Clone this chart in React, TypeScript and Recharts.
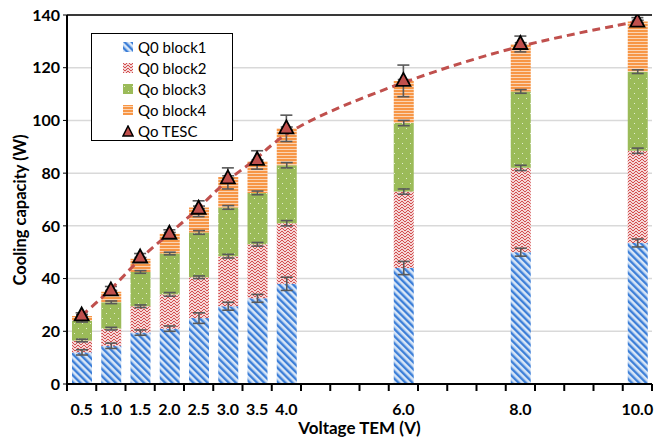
import { ComposedChart, Bar, Line, XAxis, YAxis, CartesianGrid, ErrorBar, Label, ReferenceLine } from "recharts";

// measured voltages and the cooling capacity of each TEM block (W)
const voltages = ["0.5", "1.0", "1.5", "2.0", "2.5", "3.0", "3.5", "4.0", "6.0", "8.0", "10.0"];
const block1 = [12, 14.5, 19.5, 21, 25, 29.5, 32.5, 38, 44, 50, 53.5];
const block2 = [4.5, 6.5, 10, 13, 15.5, 19, 20.5, 23, 29, 32, 35];
const block3 = [7.5, 10, 13, 15.5, 17, 18.5, 19.5, 22, 26, 29, 30];
const block4 = [1.8, 4, 5, 7.5, 9.5, 11.5, 12, 14, 16, 18, 19];
const tesc = [26, 35.5, 48, 57, 66.5, 78, 85, 97, 115, 129, 137.5];

// +/- uncertainty for each series
const err1 = [1, 1, 1, 1, 2, 1.5, 1.5, 2.5, 2.5, 1.5, 1.5];
const err2 = [0.5, 0.5, 0.5, 0.7, 0.5, 0.7, 0.7, 1, 1, 1, 1];
const err3 = [0.5, 0.5, 0.5, 0.5, 0.7, 0.7, 0.7, 1, 1, 0.7, 0.7];
const err4 = [0.5, 0.5, 0.5, 0.5, 0.5, 0.5, 0.5, 0.5, 0.5, 0.5, 0.5];
const errTesc = [1, 1.5, 1.5, 1.5, 3, 4, 3.5, 5, 6, 3, 1.5];

const yTicks = [0, 20, 40, 60, 80, 100, 120, 140];

// category slots every 0.5 V; only the measured ones carry data
const slots = Array.from({ length: 20 }, (_, i) => ((i + 1) * 0.5).toFixed(1));
const data = slots.map((v) => {
  const i = voltages.indexOf(v);
  if (i < 0) return { v };
  return {
    v,
    b1: block1[i], b2: block2[i], b3: block3[i], b4: block4[i], tesc: tesc[i],
    e1: err1[i], e2: err2[i], e3: err3[i], e4: err4[i], et: errTesc[i],
  };
});

const W = 668;
const H = 438;
const M = { top: 15, right: 16, bottom: 0, left: 0 };
const Y_W = 67;
const X_H = 54;
const BAND = (W - M.right - Y_W) / slots.length;
const FONT = "Lato, 'Open Sans', sans-serif";
const RED = "#C0504D";

function VoltTick(props: any) {
  const { x, y, payload, index } = props;
  const label = voltages.includes(payload.value) ? payload.value : "";
  const top = y - 8;
  return (
    <g>
      <line x1={x - BAND / 2} x2={x - BAND / 2} y1={top} y2={top + 7} stroke="#000" strokeWidth={2} />
      {index === slots.length - 1 && (
        <line x1={x + BAND / 2} x2={x + BAND / 2} y1={top} y2={top + 7} stroke="#000" strokeWidth={2} />
      )}
      <text x={x} y={y + 23} textAnchor="middle" fontFamily={FONT} fontWeight={700} fontSize={16} fill="#000">
        {label}
      </text>
    </g>
  );
}

function Triangle(props: any) {
  const { cx, cy } = props;
  if (cx == null || cy == null) return null;
  return (
    <polygon
      points={`${cx},${cy - 8} ${cx - 7},${cy + 5} ${cx + 7},${cy + 5}`}
      fill={RED}
      stroke="#000"
      strokeWidth={1.8}
    />
  );
}

function Patterns() {
  return (
    <defs>
      <pattern id="pBlue" width="5" height="5" patternUnits="userSpaceOnUse" patternTransform="rotate(-45)">
        <rect width="5" height="5" fill="#d8e6f7" />
        <rect width="2.4" height="5" fill="#3d7fd8" />
      </pattern>
      <pattern id="pRed" width="6" height="6" patternUnits="userSpaceOnUse">
        <rect width="6" height="6" fill="#f5d6d6" />
        <path d="M0 0 L3 3 L6 0 M0 3 L3 6 L6 3" stroke="#d24f4f" strokeWidth="1" fill="none" />
      </pattern>
      <pattern id="pGreen" width="8" height="10" patternUnits="userSpaceOnUse">
        <rect width="8" height="10" fill="#9BBB59" />
        <rect x="2" y="3" width="1" height="1" fill="#e4eed2" />
        <rect x="6" y="8" width="1" height="1" fill="#e4eed2" />
      </pattern>
      <pattern id="pOrange" width="4" height="3" patternUnits="userSpaceOnUse">
        <rect width="4" height="3" fill="#fbd4b4" />
        <rect width="4" height="2" fill="#F79646" />
      </pattern>
    </defs>
  );
}

const legendItems = [
  { name: "Q0 block1", fill: "url(#pBlue)" },
  { name: "Q0 block2", fill: "url(#pRed)" },
  { name: "Qo block3", fill: "url(#pGreen)" },
  { name: "Qo block4", fill: "url(#pOrange)" },
  { name: "Qo TESC", fill: "" },
];

function LegendBox() {
  return (
    <div
      style={{
        position: "absolute",
        left: 91,
        top: 33,
        width: 140,
        height: 106,
        border: "1.5px solid #000",
        background: "#fff",
        fontFamily: FONT,
        fontSize: 15,
        color: "#000",
      }}
    >
      {legendItems.map((it, i) => (
        <div key={it.name} style={{ position: "absolute", left: 30, top: 3 + i * 21, height: 20, display: "flex", alignItems: "center" }}>
          <svg width={12} height={12} style={{ marginRight: 4 }}>
            {it.fill ? (
              <rect x={1} y={1} width={10} height={10} fill={it.fill} />
            ) : (
              <polygon points="6,1 1,11 11,11" fill={RED} stroke="#000" strokeWidth={1.5} />
            )}
          </svg>
          <span>{it.name}</span>
        </div>
      ))}
    </div>
  );
}

const errStyle = { stroke: "#595959", strokeWidth: 1.6, width: 6 };

export default function App() {
  return (
    <div style={{ position: "absolute", left: 0, top: 0, width: W, height: H, background: "#fff" }}>
      <ComposedChart width={W} height={H} data={data} margin={M} barCategoryGap={0}>
        <Patterns />
        <CartesianGrid vertical={false} stroke="#d9d9d9" strokeWidth={1.5} />
        <XAxis
          dataKey="v"
          height={X_H}
          interval={0}
          tick={<VoltTick />}
          tickLine={false}
          tickSize={6}
          tickMargin={2}
          axisLine={{ stroke: "#000", strokeWidth: 2 }}
        >
          <Label
            value="Voltage TEM (V)"
            position="insideBottom"
            offset={4}
            style={{ fontFamily: FONT, fontWeight: 700, fontSize: 17, fill: "#000" }}
          />
        </XAxis>
        <YAxis
          width={Y_W}
          domain={[0, 140]}
          ticks={yTicks}
          allowDataOverflow
          tickSize={4}
          tickMargin={3}
          tickLine={{ stroke: "#000" }}
          axisLine={{ stroke: "#000", strokeWidth: 2 }}
          tick={{ fontFamily: FONT, fontWeight: 700, fontSize: 16, fill: "#000" }}
        >
          <Label
            content={() => (
              <text
                x={20}
                y={210}
                transform="rotate(-90 20 210)"
                textAnchor="middle"
                dominantBaseline="central"
                fontFamily={FONT}
                fontWeight={700}
                fontSize={16.5}
                fill="#000"
              >
                Cooling capacity (W)
              </text>
            )}
          />
        </YAxis>
        {/* plot frame: right edge */}
        <YAxis
          yAxisId="frame"
          orientation="right"
          width={0}
          tick={false}
          tickLine={false}
          axisLine={{ stroke: "#000", strokeWidth: 1.5 }}
        />
        <ReferenceLine y={140} stroke="#000" strokeWidth={1.5} />
        <Bar dataKey="b1" stackId="q" fill="url(#pBlue)" barSize={20} isAnimationActive={false}>
          <ErrorBar dataKey="e1" direction="y" {...errStyle} />
        </Bar>
        <Bar dataKey="b2" stackId="q" fill="url(#pRed)" barSize={20} isAnimationActive={false}>
          <ErrorBar dataKey="e2" direction="y" {...errStyle} />
        </Bar>
        <Bar dataKey="b3" stackId="q" fill="url(#pGreen)" barSize={20} isAnimationActive={false}>
          <ErrorBar dataKey="e3" direction="y" {...errStyle} />
        </Bar>
        <Bar dataKey="b4" stackId="q" fill="url(#pOrange)" barSize={20} isAnimationActive={false}>
          <ErrorBar dataKey="e4" direction="y" {...errStyle} />
        </Bar>
        <Line
          dataKey="tesc"
          type="basis"
          connectNulls
          stroke={RED}
          strokeWidth={3}
          strokeDasharray="8 5"
          dot={<Triangle />}
          activeDot={false}
          isAnimationActive={false}
        >
          <ErrorBar dataKey="et" direction="y" {...errStyle} />
        </Line>
      </ComposedChart>
      <LegendBox />
    </div>
  );
}
